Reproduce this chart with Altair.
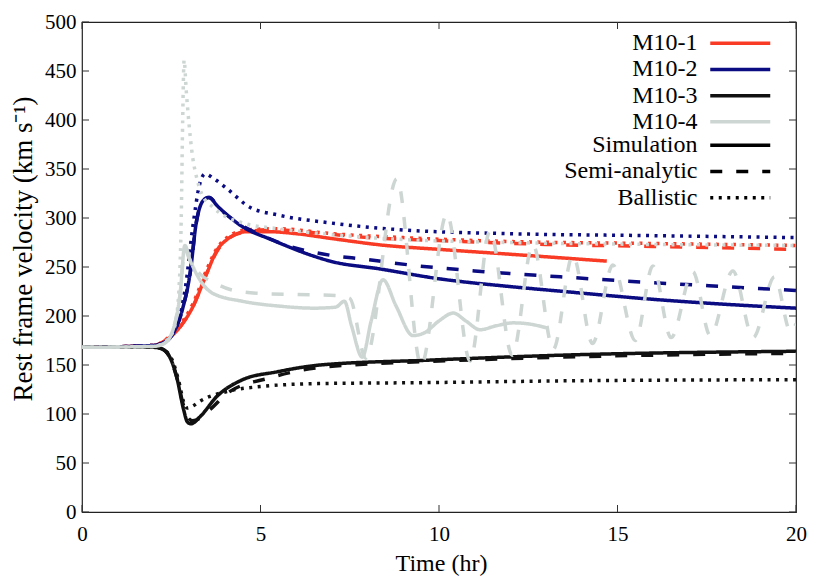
import altair as alt
import pandas as pd

# ---------------- data ----------------
models = ["M10-1", "M10-2", "M10-3", "M10-4"]
methods = ["Simulation", "Semi-analytic", "Ballistic"]
model_colors = ["#f93b26", "#0b0b82", "#111111", "#cdd6d2"]
method_dashes = [[1, 0], [12, 14], [3, 5.5]]
x_ticks = [0, 5, 10, 15, 20]
y_ticks = [0, 50, 100, 150, 200, 250, 300, 350, 400, 450, 500]

# M10-1
m1_sim_t = [0, 2.0, 2.38, 2.75, 3.1, 3.5, 3.78, 4.06, 4.62, 5.27, 6.0, 7.0, 8.5, 10.0, 12.0, 14.7]
m1_sim_v = [168, 170, 176, 189, 209, 244, 267, 278, 286, 286, 284, 279, 272, 268, 263, 256]
m1_semi_t = [0, 2.0, 2.38, 2.75, 3.1, 3.5, 3.78, 4.06, 4.62, 5.3, 6.5, 8.0, 10.0, 13.0, 16.0, 20.0]
m1_semi_v = [168, 170, 176, 189, 209, 244, 266, 278, 286, 288, 285, 280, 277, 273, 271, 268]
m1_ball_t = [0, 2.0, 2.38, 2.75, 3.1, 3.5, 3.78, 4.06, 4.62, 5.5, 7.0, 9.0, 12.0, 16.0, 20.0]
m1_ball_v = [168, 170, 177, 191, 212, 248, 269, 280, 288, 289, 284, 280, 276, 274, 272]

# M10-2
m2_sim_t = [0, 2.0, 2.3, 2.55, 2.83, 3.03, 3.2, 3.4, 3.55, 3.8, 4.5, 5.3, 6.5, 6.95, 8.35, 10.0, 12.0, 13.5, 16.0, 18.0, 20.0]
m2_sim_v = [168, 170, 173, 182, 209, 244, 295, 318, 321, 312, 291, 278, 261, 256, 248, 238, 230, 225, 217, 212, 208]
m2_semi_t = [0, 2.0, 2.3, 2.55, 2.83, 3.03, 3.2, 3.4, 3.55, 3.9, 4.5, 5.0, 5.74, 6.95, 7.9, 9.2, 11.0, 13.4, 16.0, 18.0, 20.0]
m2_semi_v = [168, 170, 173, 182, 209, 244, 295, 318, 321, 308, 292, 283, 272, 262, 258, 252, 246, 240, 234, 230, 226]
m2_ball_t = [0, 2.0, 2.4, 2.7, 2.9, 3.1, 3.3, 3.45, 3.7, 4.06, 4.7, 5.5, 6.95, 8.9, 12.0, 16.0, 20.0]
m2_ball_v = [168, 170, 176, 195, 230, 290, 335, 345, 340, 330, 311, 303, 295, 288, 284, 282, 280]

# M10-3
m3_sim_t = [0, 2.0, 2.2, 2.46, 2.65, 2.85, 2.95, 3.05, 3.3, 3.78, 4.5, 5.46, 6.67, 9.75, 13.4, 20.0]
m3_sim_v = [168, 168, 167, 158, 138, 104, 92, 90, 97, 118, 135, 143, 150, 155, 160, 164]
m3_semi_t = [0, 2.0, 2.2, 2.46, 2.65, 2.85, 3.0, 3.1, 3.6, 4.06, 5.27, 6.2, 8.0, 10.0, 13.4, 20.0]
m3_semi_v = [168, 168, 167, 158, 138, 108, 95, 93, 105, 121, 137, 145, 151, 154, 158, 162]
m3_ball_t = [0, 2.0, 2.2, 2.5, 2.7, 2.85, 2.95, 3.1, 3.3, 4.06, 5.0, 6.6, 9.55, 14.0, 20.0]
m3_ball_v = [168, 168, 167, 157, 135, 112, 106, 108, 113, 123, 128, 131, 132, 134, 135]

# M10-4
m4_sim_t = [0, 2.0, 2.3, 2.55, 2.75, 2.88, 3.03, 3.3, 3.67, 4.5, 5.55, 6.5, 7.1, 7.35, 7.55, 7.85, 8.1, 8.43,
            8.8, 9.27, 9.6, 10.0, 10.4, 10.75, 11.15, 11.6, 12.07, 12.5, 13.0]
m4_sim_v = [168, 169, 172, 186, 223, 272, 257, 237, 223, 215, 210, 208, 209, 215, 190, 158, 195, 237,
            210, 180, 183, 195, 203, 195, 186, 190, 193, 192, 188]
m4_semi_t = [0, 2.0, 2.3, 2.55, 2.75, 2.88, 3.03, 3.3, 3.7, 4.15, 5.0, 6.0, 7.1, 7.5, 7.95, 8.82, 9.5, 10.22,
             10.87, 11.43, 12.05, 12.63, 13.2, 13.75, 14.3, 14.87, 15.5, 15.99, 16.5, 17.11, 17.6, 18.23,
             18.8, 19.4, 19.85, 20.0]
m4_semi_v = [168, 169, 172, 186, 223, 268, 256, 243, 234, 227, 223, 222, 221, 218, 157, 340, 150, 304,
             154, 287, 160, 273, 166, 262, 172, 252, 175, 251, 178, 245, 180, 246,
             178, 240, 184, 192]
m4_ball_t = [0, 2.0, 2.4, 2.6, 2.72, 2.78, 2.82, 2.86, 2.92, 3.0, 3.1, 3.2, 3.35, 3.67, 4.5, 5.5, 7.0, 9.0,
             12.0, 16.0, 20.0]
m4_ball_v = [168, 169, 176, 190, 230, 300, 400, 461, 430, 395, 362, 343, 325, 311, 295, 289, 283, 278,
             275, 273, 272]

series = [
    ("M10-1", "Simulation", m1_sim_t, m1_sim_v),
    ("M10-1", "Semi-analytic", m1_semi_t, m1_semi_v),
    ("M10-1", "Ballistic", m1_ball_t, m1_ball_v),
    ("M10-2", "Simulation", m2_sim_t, m2_sim_v),
    ("M10-2", "Semi-analytic", m2_semi_t, m2_semi_v),
    ("M10-2", "Ballistic", m2_ball_t, m2_ball_v),
    ("M10-3", "Simulation", m3_sim_t, m3_sim_v),
    ("M10-3", "Semi-analytic", m3_semi_t, m3_semi_v),
    ("M10-3", "Ballistic", m3_ball_t, m3_ball_v),
    ("M10-4", "Simulation", m4_sim_t, m4_sim_v),
    ("M10-4", "Semi-analytic", m4_semi_t, m4_semi_v),
    ("M10-4", "Ballistic", m4_ball_t, m4_ball_v),
]

rows = []
for model, method, ts, vs in series:
    for t, v in zip(ts, vs):
        rows.append({"model": model, "method": method, "t": t, "v": v})
df = pd.DataFrame(rows)

# ---------------- chart ----------------
W, H = 714, 490
FONT = "Liberation Serif"
TL = 7  # inward tick length

xscale = alt.Scale(domain=[0, 20], nice=False, zero=False)
yscale = alt.Scale(domain=[0, 500], nice=False, zero=False)

xaxis = alt.Axis(values=x_ticks, title="Time (hr)", ticks=False, domain=False, grid=False,
                 labelPadding=11, labelFontSize=21, titleFontSize=24,
                 labelFont=FONT, titleFont=FONT, titleFontWeight="normal",
                 labelColor="black", titleColor="black",
                 titleX=359, titleY=51, titleBaseline="middle", labelFlush=False)
yaxis = alt.Axis(values=y_ticks, title="Rest frame velocity (km s⁻¹)", ticks=False, domain=False, grid=False,
                 labelPadding=6, labelFontSize=21, titleFontSize=27,
                 labelFont=FONT, titleFont=FONT, titleFontWeight="normal",
                 labelColor="black", titleColor="black",
                 titleX=-59, titleY=226.5, titleBaseline="middle", titleAngle=270)

X = alt.X("t:Q", scale=xscale, axis=xaxis)
Y = alt.Y("v:Q", scale=yscale, axis=yaxis)

legend_common = dict(title=None, symbolType="M-3,0H3", symbolSize=400, symbolStrokeWidth=3.5,
                     symbolOffset=18.25, symbolFillColor="transparent",
                     labelAlign="right", labelOffset={"expr": "-54.75"}, labelFont=FONT, labelFontSize=24,
                     labelColor="black", rowPadding=2.2, padding=0, orient="none")

color = alt.Color("model:N", scale=alt.Scale(domain=models, range=model_colors),
                  legend=alt.Legend(legendX=628, legendY=9.25, **legend_common))
dash = alt.StrokeDash("method:N", scale=alt.Scale(domain=methods, range=method_dashes),
                      legend=alt.Legend(legendX=628, legendY=111.25, symbolStrokeColor="black", **legend_common))

layers = []
for m in models:
    layers.append(
        alt.Chart(df).transform_filter(alt.datum.model == m)
        .mark_line(strokeWidth=3.5, interpolate="monotone", strokeCap="butt", clip=True)
        .encode(x=X, y=Y, color=color, strokeDash=dash, detail="method:N")
    )

xt = pd.DataFrame({"t": x_ticks})
yt = pd.DataFrame({"v": y_ticks})
tick_style = dict(color="#333333", strokeWidth=1)
ticks = [
    alt.Chart(yt).mark_rule(**tick_style).encode(y=Y, x=alt.value(0), x2=alt.value(TL)),
    alt.Chart(yt).mark_rule(**tick_style).encode(y=Y, x=alt.value(W - TL), x2=alt.value(W)),
    alt.Chart(xt).mark_rule(**tick_style).encode(x=X, y=alt.value(H - TL), y2=alt.value(H)),
    alt.Chart(xt).mark_rule(**tick_style).encode(x=X, y=alt.value(0), y2=alt.value(TL)),
]

chart = alt.layer(*layers, *ticks).properties(
    width=W, height=H,
    autosize=alt.AutoSizeParams(type="none"),
    padding={"left": 74, "top": 14, "right": 16, "bottom": 64},
    background="white",
).configure_view(stroke="#222222", strokeWidth=1.2).configure_legend(
    labelFont=FONT, labelFontSize=24, labelColor="black"
).configure_text(font=FONT)

chart.save("out.html", embed_options={"renderer": "svg", "actions": False})
